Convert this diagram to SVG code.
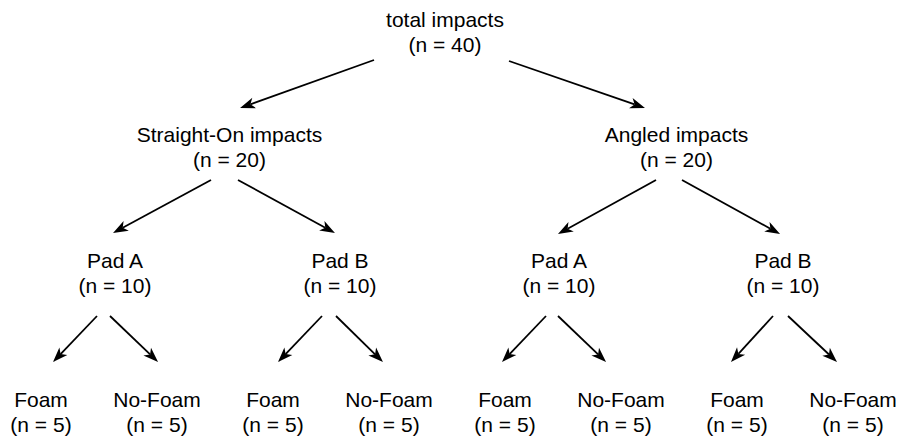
<svg xmlns="http://www.w3.org/2000/svg" width="899" height="437" viewBox="0 0 899 437">
<style>
text{font-family:"Liberation Sans",Arial,sans-serif;font-size:21px;fill:#000;text-anchor:middle}
.c line{stroke:#000;stroke-width:1.8;marker-end:url(#ah)}
</style>
<defs>
<marker id="ah" markerUnits="userSpaceOnUse" markerWidth="15" markerHeight="11" refX="4" refY="5.5" orient="auto" overflow="visible">
<path d="M0,0 L15,5.5 L0,11 L4,5.5 Z" fill="#000"/>
</marker>
</defs>
<rect width="899" height="437" fill="#fff"/>
<g class="c" id="connectors">
<line x1="374" y1="60" x2="250.4" y2="104.3"/>
<line x1="509" y1="61" x2="634.6" y2="104.4"/>
<line x1="211" y1="180" x2="122.7" y2="227.8"/>
<line x1="238" y1="180" x2="325.3" y2="227.7"/>
<line x1="656" y1="180" x2="567.6" y2="228.7"/>
<line x1="682" y1="180" x2="770.4" y2="228.7"/>
<line x1="97" y1="316" x2="60.6" y2="354.1"/>
<line x1="110" y1="316" x2="150.1" y2="354.4"/>
<line x1="322" y1="316" x2="285.6" y2="354.1"/>
<line x1="336" y1="316" x2="375.1" y2="354.3"/>
<line x1="546" y1="316" x2="509.6" y2="354.1"/>
<line x1="558" y1="316" x2="598.1" y2="354.4"/>
<line x1="773" y1="316" x2="738.4" y2="353.9"/>
<line x1="788" y1="316" x2="829.0" y2="354.5"/>
</g>
<g id="total"><text x="445" y="27">total impacts</text><text x="445" y="52">(n = 40)</text></g>
<g id="straight"><text x="229.5" y="142">Straight-On impacts</text><text x="229.5" y="167">(n = 20)</text></g>
<g id="angled"><text x="676.5" y="142">Angled impacts</text><text x="676.5" y="167">(n = 20)</text></g>
<g id="s-padA"><text x="115" y="268">Pad A</text><text x="115" y="293">(n = 10)</text></g>
<g id="s-padB"><text x="340" y="268">Pad B</text><text x="340" y="293">(n = 10)</text></g>
<g id="a-padA"><text x="559" y="268">Pad A</text><text x="559" y="293">(n = 10)</text></g>
<g id="a-padB"><text x="783" y="268">Pad B</text><text x="783" y="293">(n = 10)</text></g>
<g id="leaf1"><text x="41" y="407">Foam</text><text x="41" y="432">(n = 5)</text></g>
<g id="leaf2"><text x="157" y="407">No-Foam</text><text x="157" y="432">(n = 5)</text></g>
<g id="leaf3"><text x="273" y="407">Foam</text><text x="273" y="432">(n = 5)</text></g>
<g id="leaf4"><text x="389" y="407">No-Foam</text><text x="389" y="432">(n = 5)</text></g>
<g id="leaf5"><text x="505" y="407">Foam</text><text x="505" y="432">(n = 5)</text></g>
<g id="leaf6"><text x="621" y="407">No-Foam</text><text x="621" y="432">(n = 5)</text></g>
<g id="leaf7"><text x="737" y="407">Foam</text><text x="737" y="432">(n = 5)</text></g>
<g id="leaf8"><text x="853" y="407">No-Foam</text><text x="853" y="432">(n = 5)</text></g>
</svg>
